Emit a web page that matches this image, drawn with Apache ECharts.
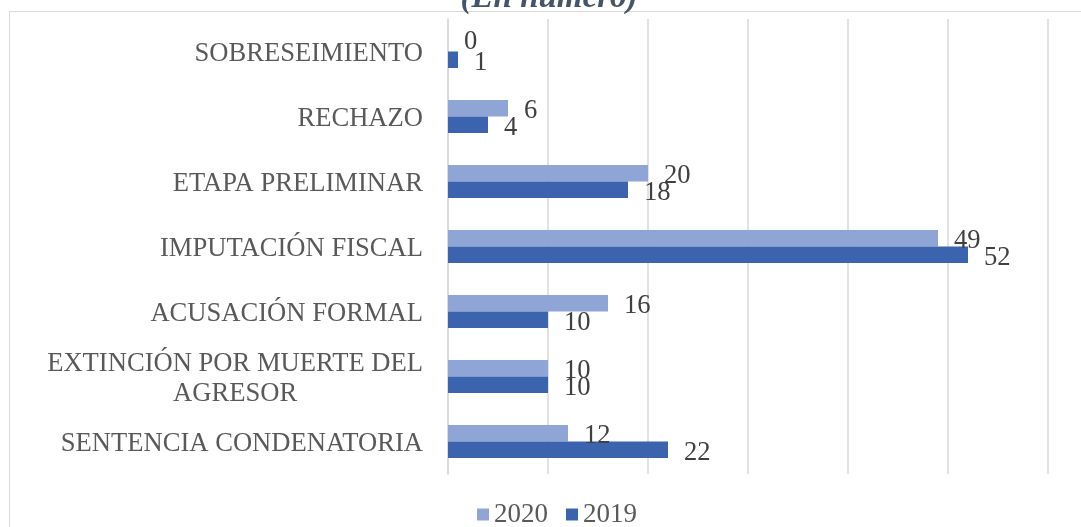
<!DOCTYPE html>
<html>
<head>
<meta charset="utf-8">
<script src="https://cdn.jsdelivr.net/npm/echarts@6/dist/echarts.min.js"></script>
<style>html,body{margin:0;padding:0;background:#fff}#c{width:1081px;height:527px}</style>
</head>
<body>
<div id="c"></div>
<script>
const categories = ['SENTENCIA CONDENATORIA', 'EXTINCIÓN POR MUERTE DEL\nAGRESOR', 'ACUSACIÓN FORMAL', 'IMPUTACIÓN FISCAL', 'ETAPA PRELIMINAR', 'RECHAZO', 'SOBRESEIMIENTO'];
const values2020 = [12, 10, 16, 49, 20, 6, 0];
const values2019 = [22, 10, 10, 52, 18, 4, 1];
const seriesNames = ['2020', '2019'];
const titleText = '(En número)';

const chart = echarts.init(document.getElementById('c'), null, {renderer: 'canvas'});
const serif = '"Liberation Serif", "Times New Roman", serif';
const FS = 26.6;
chart.setOption({
  animation: false,
  backgroundColor: '#ffffff',
  graphic: [
    {type: 'rect', shape: {x: 9.5, y: 11.5, width: 1200, height: 700}, style: {fill: 'none', stroke: '#d9d9d9', lineWidth: 1}, z: -1},
    {type: 'text', x: 549, y: -2, style: {text: titleText, font: 'italic bold 33px ' + serif, fill: '#44546a', align: 'center', verticalAlign: 'middle'}}
  ],
  legend: {
    data: seriesNames, bottom: -6, left: 472, itemWidth: 12, itemHeight: 12, itemGap: 18,
    icon: 'rect',
    textStyle: {fontFamily: serif, fontSize: 27, color: '#595959'}
  },
  grid: {left: 448, right: 33, top: 19, bottom: 53, containLabel: false},
  xAxis: {
    type: 'value', min: 0, max: 60, interval: 10,
    axisLabel: {show: false}, axisTick: {show: false}, axisLine: {show: false},
    splitLine: {show: true, lineStyle: {color: '#d9d9d9', width: 1.5}}
  },
  yAxis: {
    type: 'category', data: categories,
    axisTick: {show: false},
    axisLine: {show: true, lineStyle: {color: '#d9d9d9', width: 1.5}},
    axisLabel: {
      margin: 25, fontFamily: serif, fontSize: FS, color: '#595959', lineHeight: 30,
      padding: [6, 0, 0, 0],
      formatter: v => '{a|' + v.split('\n').join('}\n{a|') + '}',
      rich: {a: {align: 'center', fontFamily: serif, fontSize: FS, color: '#595959', lineHeight: 30}}
    }
  },
  series: [
    {
      name: '2020', type: 'bar', barWidth: 16.5, barGap: '0%',
      data: values2020.map(v => v === 0 ? {value: v, label: {offset: [0, -1]}} : v),
      itemStyle: {color: '#8fa5d5'},
      label: {show: true, position: 'right', distance: 16, offset: [0, 3], fontFamily: serif, fontSize: FS, color: '#404040'}
    },
    {
      name: '2019', type: 'bar', data: values2019, barWidth: 16.5, barGap: '0%',
      itemStyle: {color: '#3c64ae'},
      label: {show: true, position: 'right', distance: 16, offset: [0, 3], fontFamily: serif, fontSize: FS, color: '#404040'}
    }
  ]
});
</script>
</body>
</html>
